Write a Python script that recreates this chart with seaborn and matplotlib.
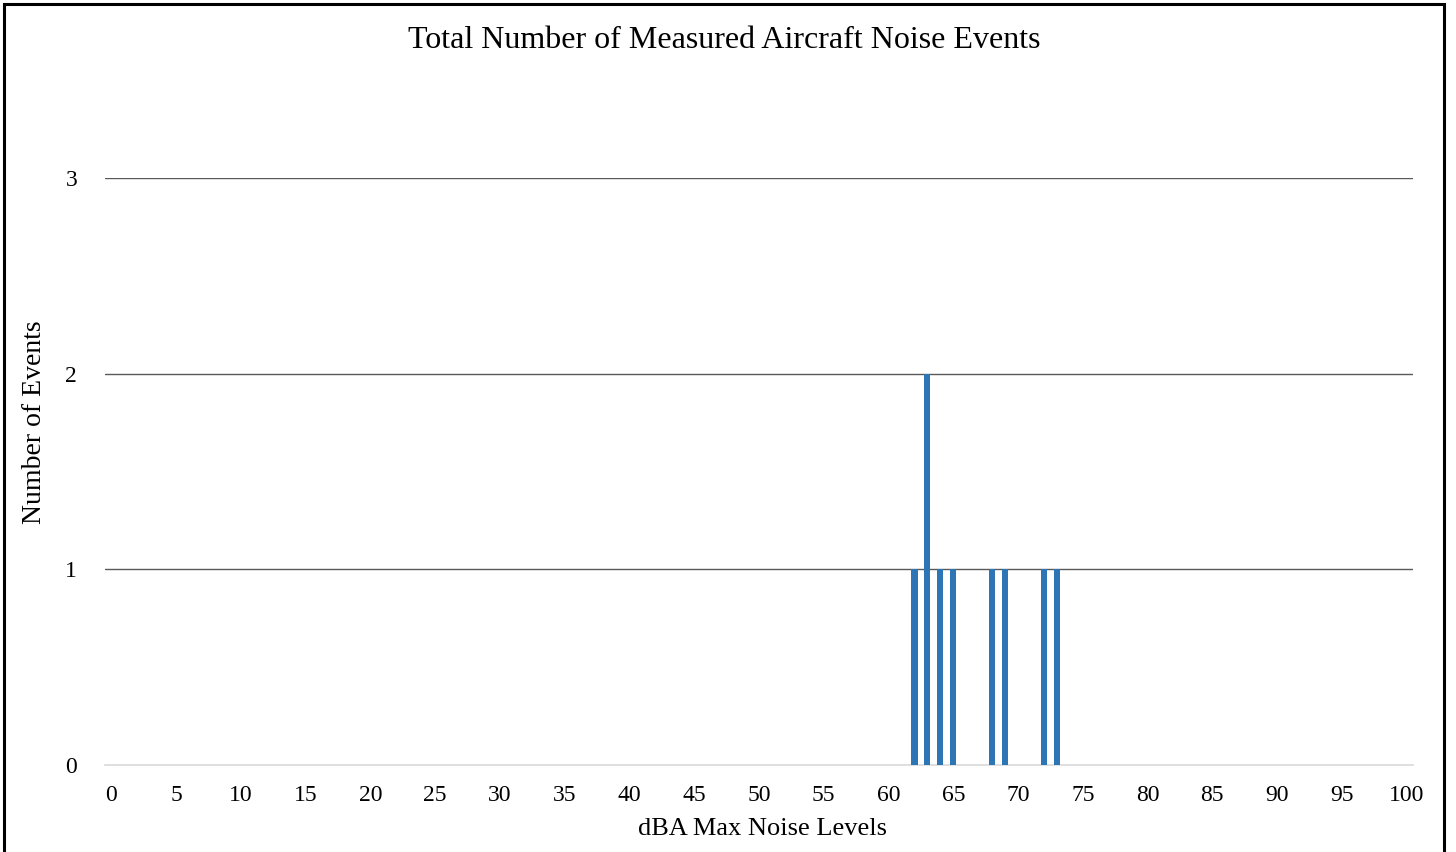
import matplotlib
matplotlib.use("Agg")
import matplotlib.pyplot as plt
from matplotlib.patches import Rectangle
import seaborn as sns
import pandas as pd
import numpy as np

# Data
noise_levels = [62, 63, 64, 65, 68, 69, 72, 73]
event_counts = [1, 2, 1, 1, 1, 1, 1, 1]
all_levels = list(range(0, 101))
tick_labels = [str(v) for v in range(0, 101, 5)]
y_ticks = [0, 1, 2, 3]

counts_map = dict(zip(noise_levels, event_counts))
df = pd.DataFrame({"level": all_levels,
                   "events": [counts_map.get(l, 0) for l in all_levels]})

sns.set_theme(style="white")
plt.rcParams['font.family'] = ['Liberation Serif', 'DejaVu Serif']
plt.rcParams['text.color'] = 'black'
plt.rcParams['axes.labelcolor'] = 'black'
plt.rcParams['xtick.color'] = 'black'
plt.rcParams['ytick.color'] = 'black'

fig = plt.figure(figsize=(14.56, 8.52), dpi=100)
ax = fig.add_axes([0.0721, 0.102, 0.8984, 0.689])

sns.barplot(data=df, x="level", y="events", order=all_levels, color="#2e75b6",
            saturation=1, width=0.48, linewidth=0, ax=ax, zorder=3)

ax.set_xlim(-0.5, 100.5)
ax.set_ylim(0, 3)
ax.set_yticks(y_ticks)
ax.set_yticklabels([str(v) for v in y_ticks], fontsize=17)
ax.set_xticks(list(range(0, 101, 5)))
ax.set_xticklabels(tick_labels, fontsize=17)
ax.tick_params(axis='x', length=0, pad=14)
ax.tick_params(axis='y', length=0, pad=20)

for y in y_ticks[1:]:
    ax.axhline(y, color='#595959', linewidth=1, zorder=1)
for s in ['top', 'right', 'left']:
    ax.spines[s].set_visible(False)
ax.spines['bottom'].set_color('#d9d9d9')
ax.spines['bottom'].set_linewidth(1.2)

ax.set_xlabel("dBA Max Noise Levels", fontsize=19)
ax.set_ylabel("Number of Events", fontsize=20)
ax.xaxis.set_label_coords(0.5025, -64 / 587, transform=ax.transAxes)
ax.xaxis.label.set_va('center')
ax.yaxis.set_label_coords(-70 / 1308, (765 - 422) / 587, transform=ax.transAxes)
ax.yaxis.label.set_va('center')
fig.text(724 / 1456, 1 - 40 / 852, "Total Number of Measured Aircraft Noise Events",
         ha='center', va='center', fontsize=23)

border = Rectangle((3.5 / 1456, -0.05), (1444 - 3.5) / 1456, 1.05 - 4.5 / 852,
                   transform=fig.transFigure, fill=False, edgecolor='black',
                   linewidth=2.2, clip_on=False)
fig.add_artist(border)

fig.savefig("out.png", dpi=100)
